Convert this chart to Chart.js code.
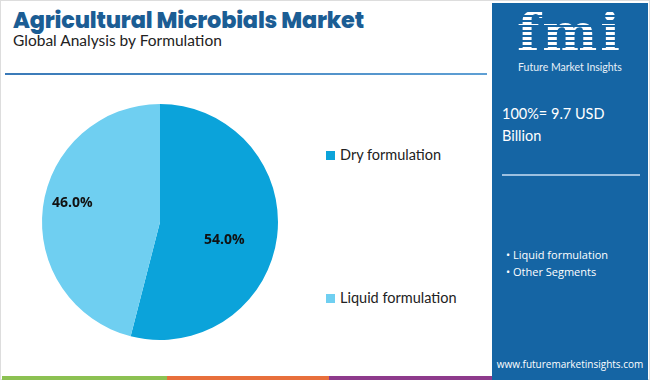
<!DOCTYPE html>
<html>
<head>
<meta charset="utf-8">
<script src="https://cdn.jsdelivr.net/npm/chart.js@4"></script>
<style>
  html, body { margin: 0; padding: 0; }
  body { width: 650px; height: 380px; position: relative; overflow: hidden; background: #fff; font-family: "Open Sans", "Noto Sans", sans-serif; }
  #frame { position: absolute; left: 0; top: 0; width: 648px; height: 378px; border: 1px solid #ddd; }
  #title { position: absolute; left: 13px; top: 3px; font-family: Poppins, "Open Sans", sans-serif; font-weight: 800; font-size: 22.4px; color: #1b5d94; letter-spacing: -0.2px; }
  #subtitle { position: absolute; left: 13px; top: 31px; font-family: Lato, sans-serif; font-size: 15.5px; color: #222; }
  #rule { position: absolute; left: 5px; top: 73px; width: 482px; height: 2px; background: linear-gradient(to right, #3a7ab8, #5e9fd4); }
  #chartBox { position: absolute; left: 0; top: 80px; width: 320px; height: 284px; }
  .leg { position: absolute; left: 326px; font-family: Lato, sans-serif; font-size: 14.5px; color: #222; }
  .leg span { display: inline-block; width: 9px; height: 9px; margin-right: 5px; vertical-align: 0px; }
  #panel { position: absolute; left: 492px; top: 3px; width: 156px; height: 373px; background: #1565a4; color: #fff; }
  #logo { position: absolute; left: 0; top: 4px; width: 156px; text-align: center; font-family: "DejaVu Serif", serif; font-weight: bold; font-size: 52px; line-height: 52px; letter-spacing: 3px;
          background: repeating-linear-gradient(to bottom, #fff 0 3px, #1565a4 3px 5px); -webkit-background-clip: text; color: transparent; }
  #logoSub { position: absolute; left: 0; top: 58px; width: 156px; text-align: center; font-family: Lato, sans-serif; font-size: 10.5px; color: #e8f0f8; }
  #total { position: absolute; left: 10px; top: 100px; font-family: Lato, sans-serif; font-size: 14.5px; line-height: 22px; }
  #panelRule { position: absolute; left: 10px; top: 171px; width: 138px; height: 2px; background: #9cc0e0; }
  #bullets { position: absolute; left: 14px; top: 243px; font-family: "Open Sans", sans-serif; font-size: 11px; line-height: 17px; }
  #url { position: absolute; left: 0; top: 354px; width: 156px; text-align: center; font-family: "Open Sans", sans-serif; font-size: 10px; }
  .bar { position: absolute; top: 376px; height: 4px; }
</style>
</head>
<body>
<div id="frame"></div>
<div id="title">Agricultural Microbials Market</div>
<div id="subtitle">Global Analysis by Formulation</div>
<div id="rule"></div>
<div id="chartBox"><canvas id="pieChart"></canvas></div>
<div class="leg" style="top:146px"><span style="background:#0ba3da"></span>Dry formulation</div>
<div class="leg" style="top:289px"><span style="background:#6fcff1"></span>Liquid formulation</div>

<div id="panel">
  <div id="logo">fmi</div>
  <div id="logoSub">Future Market Insights</div>
  <div id="total">100%= 9.7 USD<br>Billion</div>
  <div id="panelRule"></div>
  <div id="bullets">&bull; Liquid formulation<br>&bull; Other Segments</div>
  <div id="url">www.futuremarketinsights.com</div>
</div>

<div class="bar" style="left:2px;width:165px;background:#8cc152"></div>
<div class="bar" style="left:167px;width:162px;background:#e86f3c"></div>
<div class="bar" style="left:329px;width:163px;background:#8e3a8c"></div>
<div class="bar" style="left:492px;width:156px;background:#1565a4"></div>

<script>
// segment names, shares and colours
const segments = ['Dry formulation', 'Liquid formulation']
const shares = [54.0, 46.0]
const sliceColors = ['#0ba3da', '#6fcff1']

// draws the percentage inside each slice
const sliceLabels = {
    id: 'sliceLabels',
    afterDatasetsDraw(chart) {
        const ctx = chart.ctx
        const arcs = chart.getDatasetMeta(0).data
        const spots = [0.55, 0.75]
        ctx.save()
        ctx.font = 'bold 14px "Open Sans", sans-serif'
        ctx.fillStyle = '#111'
        ctx.textAlign = 'center'
        ctx.textBaseline = 'middle'
        arcs.forEach((arc, i) => {
            const mid = (arc.startAngle + arc.endAngle) / 2
            const r = arc.outerRadius * spots[i]
            ctx.fillText(shares[i].toFixed(1) + '%', arc.x + Math.cos(mid) * r, arc.y + Math.sin(mid) * r + (i == 0 ? 10 : -8))
        })
        ctx.restore()
    }
}

new Chart(document.getElementById('pieChart'), {
    type: 'pie',
    data: {
        labels: segments,
        datasets: [{
            data: shares,
            backgroundColor: sliceColors,
            borderWidth: 0
        }]
    },
    options: {
        responsive: true,
        maintainAspectRatio: false,
        animation: false,
        layout: { padding: 24 },
        plugins: {
            legend: { display: false },
            tooltip: { enabled: false }
        }
    },
    plugins: [sliceLabels]
})
</script>
</body>
</html>
